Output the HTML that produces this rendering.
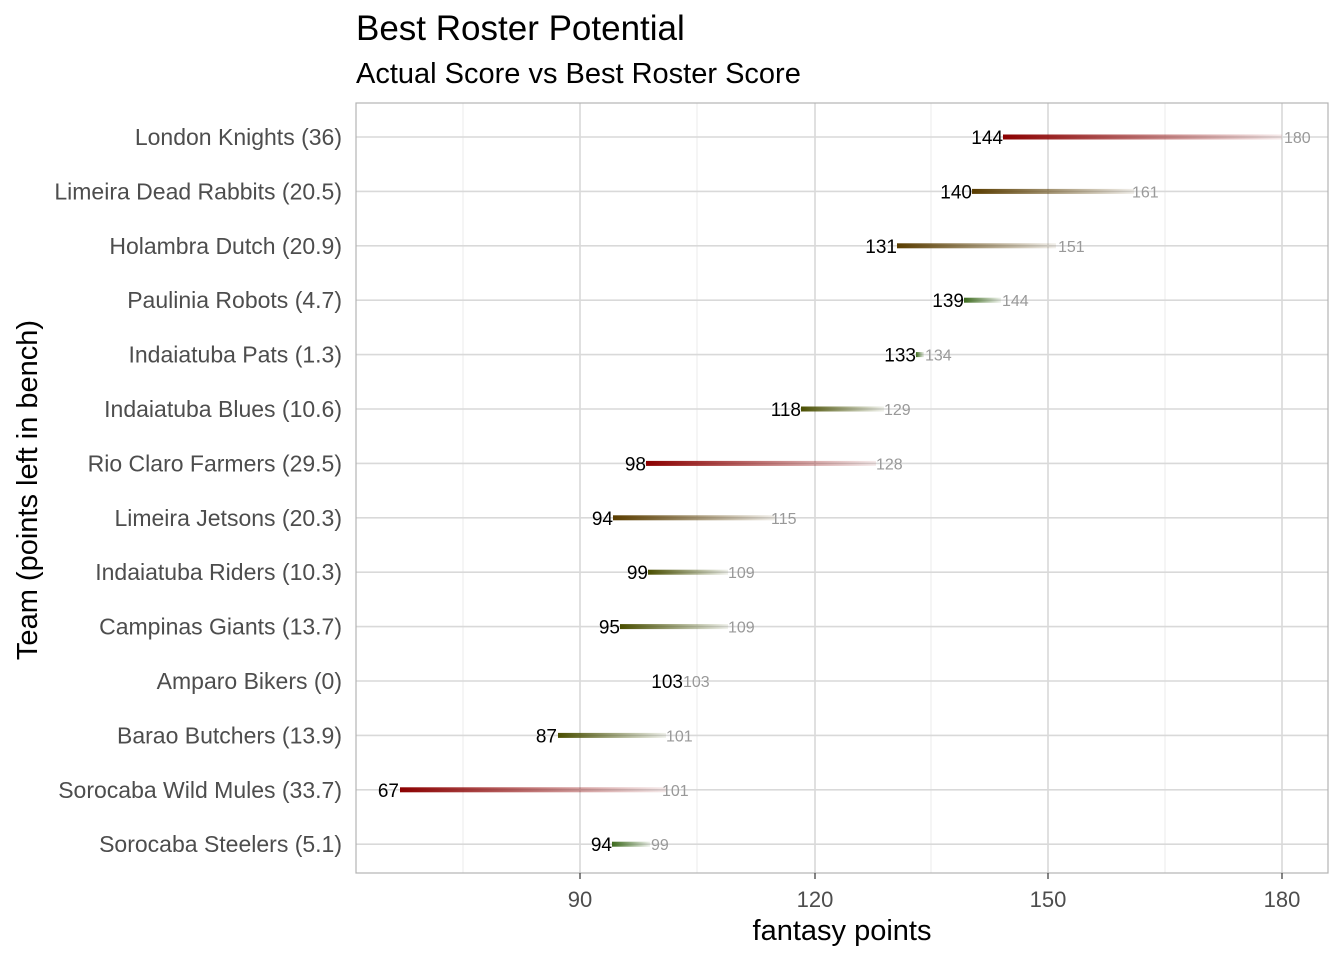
<!DOCTYPE html><html><head><meta charset="utf-8"><style>body{margin:0;background:#fff}svg{display:block;font-family:"Liberation Sans",Arial,sans-serif}</style></head><body>
<svg width="1344" height="960" xmlns="http://www.w3.org/2000/svg">
<defs>
<linearGradient id="r"><stop offset="0" stop-color="#8b0000"/><stop offset="1" stop-color="#8b0000" stop-opacity="0.08"/></linearGradient>
<linearGradient id="b"><stop offset="0" stop-color="#5a3d00"/><stop offset="1" stop-color="#5a3d00" stop-opacity="0.08"/></linearGradient>
<linearGradient id="o"><stop offset="0" stop-color="#4a4e00"/><stop offset="1" stop-color="#4a5a10" stop-opacity="0.08"/></linearGradient>
<linearGradient id="g"><stop offset="0" stop-color="#3d6b1e"/><stop offset="1" stop-color="#3d6b1e" stop-opacity="0.08"/></linearGradient>
</defs>
<text x="356" y="40" font-size="35">Best Roster Potential</text>
<text x="356" y="83" font-size="29">Actual Score vs Best Roster Score</text>
<g stroke="#ebebeb" stroke-width="1">
<line x1="463" y1="103" x2="463" y2="873"/><line x1="697" y1="103" x2="697" y2="873"/><line x1="931" y1="103" x2="931" y2="873"/><line x1="1165" y1="103" x2="1165" y2="873"/>
</g>
<g stroke="#d9d9d9" stroke-width="1.6">
<line x1="580" y1="103" x2="580" y2="873"/><line x1="815" y1="103" x2="815" y2="873"/><line x1="1048" y1="103" x2="1048" y2="873"/><line x1="1282" y1="103" x2="1282" y2="873"/>
<line x1="356" y1="137" x2="1328" y2="137"/><line x1="356" y1="191.4" x2="1328" y2="191.4"/><line x1="356" y1="245.8" x2="1328" y2="245.8"/><line x1="356" y1="300.2" x2="1328" y2="300.2"/><line x1="356" y1="354.6" x2="1328" y2="354.6"/><line x1="356" y1="409" x2="1328" y2="409"/><line x1="356" y1="463.4" x2="1328" y2="463.4"/><line x1="356" y1="517.8" x2="1328" y2="517.8"/><line x1="356" y1="572.2" x2="1328" y2="572.2"/><line x1="356" y1="626.6" x2="1328" y2="626.6"/><line x1="356" y1="681" x2="1328" y2="681"/><line x1="356" y1="735.4" x2="1328" y2="735.4"/><line x1="356" y1="789.8" x2="1328" y2="789.8"/><line x1="356" y1="844.2" x2="1328" y2="844.2"/>
</g>
<rect x="356" y="103" width="972" height="770" fill="none" stroke="#b3b3b3" stroke-width="1.2"/>
<g>
<rect x="1003" y="134.5" width="279" height="5" fill="url(#r)"/>
<rect x="972" y="188.9" width="162" height="5" fill="url(#b)"/>
<rect x="897" y="243.3" width="159" height="5" fill="url(#b)"/>
<rect x="964" y="297.7" width="37" height="5" fill="url(#g)"/>
<rect x="916" y="352.1" width="8" height="5" fill="url(#g)"/>
<rect x="801" y="406.5" width="83" height="5" fill="url(#o)"/>
<rect x="646" y="460.9" width="230" height="5" fill="url(#r)"/>
<rect x="613" y="515.3" width="162" height="5" fill="url(#b)"/>
<rect x="648" y="569.7" width="80" height="5" fill="url(#o)"/>
<rect x="620" y="624.1" width="108" height="5" fill="url(#o)"/>
<rect x="558" y="732.9" width="108" height="5" fill="url(#o)"/>
<rect x="400" y="787.3" width="266" height="5" fill="url(#r)"/>
<rect x="612" y="841.7" width="38" height="5" fill="url(#g)"/>
</g>
<g font-size="19" text-anchor="end" fill="#000">
<text x="1003" y="144">144</text><text x="972" y="198.4">140</text><text x="897" y="252.8">131</text><text x="964" y="307.2">139</text><text x="916" y="361.6">133</text><text x="801" y="416">118</text><text x="646" y="470.4">98</text><text x="613" y="524.8">94</text><text x="648" y="579.2">99</text><text x="620" y="633.6">95</text><text x="683" y="688">103</text><text x="557" y="742.4">87</text><text x="399" y="796.8">67</text><text x="612" y="851.2">94</text>
</g>
<g font-size="16" fill="#999">
<text x="1284" y="143">180</text><text x="1132" y="197.4">161</text><text x="1058" y="251.8">151</text><text x="1002" y="306.2">144</text><text x="925" y="360.6">134</text><text x="884" y="415">129</text><text x="876" y="469.4">128</text><text x="771" y="523.8">115</text><text x="728" y="578.2">109</text><text x="728" y="632.6">109</text><text x="683" y="687">103</text><text x="666" y="741.4">101</text><text x="662" y="795.8">101</text><text x="651" y="850.2">99</text>
</g>
<g font-size="23" fill="#4d4d4d" text-anchor="end">
<text x="342" y="145">London Knights (36)</text><text x="342" y="199.4">Limeira Dead Rabbits (20.5)</text><text x="342" y="253.8">Holambra Dutch (20.9)</text><text x="342" y="308.2">Paulinia Robots (4.7)</text><text x="342" y="362.6">Indaiatuba Pats (1.3)</text><text x="342" y="417">Indaiatuba Blues (10.6)</text><text x="342" y="471.4">Rio Claro Farmers (29.5)</text><text x="342" y="525.8">Limeira Jetsons (20.3)</text><text x="342" y="580.2">Indaiatuba Riders (10.3)</text><text x="342" y="634.6">Campinas Giants (13.7)</text><text x="342" y="689">Amparo Bikers (0)</text><text x="342" y="743.4">Barao Butchers (13.9)</text><text x="342" y="797.8">Sorocaba Wild Mules (33.7)</text><text x="342" y="852.2">Sorocaba Steelers (5.1)</text>
</g>
<g stroke="#333" stroke-width="1.2"><line x1="580" y1="873" x2="580" y2="879"/><line x1="815" y1="873" x2="815" y2="879"/><line x1="1048" y1="873" x2="1048" y2="879"/><line x1="1282" y1="873" x2="1282" y2="879"/></g>
<g font-size="22" fill="#4d4d4d" text-anchor="middle"><text x="580" y="907">90</text><text x="815" y="907">120</text><text x="1048" y="907">150</text><text x="1282" y="907">180</text></g>
<text x="842" y="940" font-size="29" text-anchor="middle">fantasy points</text>
<text transform="translate(37,490) rotate(-90)" font-size="29" text-anchor="middle">Team (points left in bench)</text>
</svg></body></html>
